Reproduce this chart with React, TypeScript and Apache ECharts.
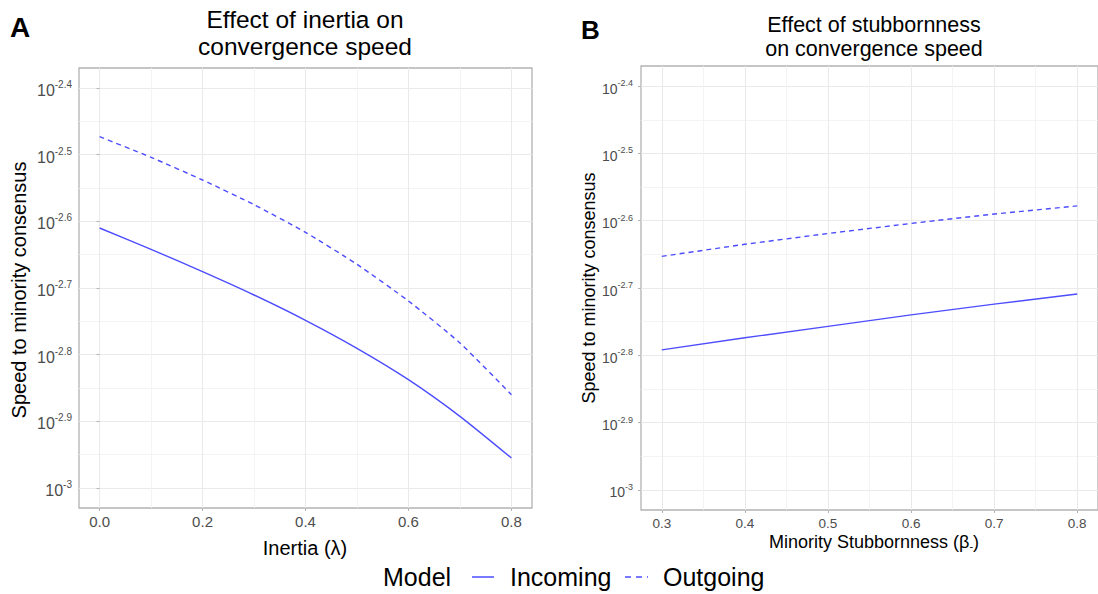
import React, { useEffect, useRef } from "react";
import * as echarts from "echarts";

// ---- data (y stored as log10 of speed) ----
const inertiaX = [0, 0.1, 0.2, 0.3, 0.4, 0.5, 0.6, 0.7, 0.8];
const inertiaIncomingLog10 = [-2.61, -2.642, -2.6755, -2.7105, -2.7485, -2.7905, -2.8375, -2.8925, -2.955];
const inertiaOutgoingLog10 = [-2.473, -2.504, -2.538, -2.575, -2.6165, -2.6645, -2.7195, -2.7825, -2.86];

const stubbornX = [0.3, 0.4, 0.5, 0.6, 0.7, 0.8];
const stubbornIncomingLog10 = [-2.792, -2.774, -2.757, -2.74, -2.724, -2.709];
const stubbornOutgoingLog10 = [-2.653, -2.635, -2.619, -2.604, -2.59, -2.578];

const yTicks = [-3, -2.9, -2.8, -2.7, -2.6, -2.5, -2.4];
const yMinorTicks = [-2.95, -2.85, -2.75, -2.65, -2.55, -2.45];
const inertiaTicks = [0, 0.2, 0.4, 0.6, 0.8];
const inertiaMinorTicks = [0.1, 0.3, 0.5, 0.7];
const stubbornTicks = [0.3, 0.4, 0.5, 0.6, 0.7, 0.8];
const stubbornMinorTicks = [0.35, 0.45, 0.55, 0.65, 0.75];

const seriesNames = ["Incoming", "Outgoing"];

const FONT = "'Liberation Sans', Arial, Helvetica, sans-serif";
const LINE_COLOR = "#4D4DFF";
const TICK_LABEL = "#4D4D4D";
const BORDER = "#B3B3B3";
const MAJOR_GRID = "#EAEAEA";
const MINOR_GRID = "#F1F1F1";

const zip = (xs: number[], ys: number[]) => xs.map((x, i) => [x, ys[i]]);

const expLabel = (v: number) => {
  const e = Number(Number(v).toFixed(2)).toString();
  return `{b|10}{s|${e}}`;
};

function mainX(gridIndex: number, min: number, max: number, ticks: number[], fontSize: number) {
  return {
    type: "value",
    gridIndex,
    min,
    max,
    axisLine: { show: false },
    axisTick: { show: true, length: 3, customValues: ticks, lineStyle: { color: BORDER, width: 1 } },
    axisLabel: {
      customValues: ticks,
      formatter: (v: number) => Number(v).toFixed(1),
      fontSize,
      fontFamily: FONT,
      color: TICK_LABEL,
      margin: 6,
    },
    splitLine: { show: true, lineStyle: { color: MAJOR_GRID, width: 1.1 } },
  };
}

function minorX(gridIndex: number, min: number, max: number, ticks: number[]) {
  return {
    type: "value",
    gridIndex,
    min,
    max,
    position: "bottom",
    axisLine: { show: false },
    axisTick: { show: false, customValues: ticks },
    axisLabel: { show: false },
    splitLine: { show: true, lineStyle: { color: MINOR_GRID, width: 0.8 } },
  };
}

function mainY(gridIndex: number, baseSize: number, supSize: number, margin: number) {
  return {
    type: "value",
    gridIndex,
    min: -3.03,
    max: -2.37,
    axisLine: { show: false },
    axisTick: { show: true, length: 3, customValues: yTicks, lineStyle: { color: BORDER, width: 1 } },
    axisLabel: {
      customValues: yTicks,
      formatter: expLabel,
      margin,
      padding: [5, 0, 0, 0],
      rich: {
        b: { fontSize: baseSize, fontFamily: FONT, color: TICK_LABEL, lineHeight: baseSize + 6, verticalAlign: "middle" },
        s: { fontSize: supSize, fontFamily: FONT, color: TICK_LABEL, lineHeight: supSize, verticalAlign: "top" },
      },
    },
    splitLine: { show: true, lineStyle: { color: MAJOR_GRID, width: 1.1 } },
  };
}

function minorY(gridIndex: number) {
  return {
    type: "value",
    gridIndex,
    min: -3.03,
    max: -2.37,
    position: "left",
    axisLine: { show: false },
    axisTick: { show: false, customValues: yMinorTicks },
    axisLabel: { show: false },
    splitLine: { show: true, lineStyle: { color: MINOR_GRID, width: 0.8 } },
  };
}

function lineSeries(name: string, xi: number, data: number[][], dashed: boolean, smooth: number) {
  return {
    type: "line",
    name,
    xAxisIndex: xi,
    yAxisIndex: xi,
    data,
    symbol: "none",
    smooth,
    z: 5,
    lineStyle: { color: LINE_COLOR, width: 1.4, type: dashed ? [5, 4] : "solid" },
    itemStyle: { color: LINE_COLOR },
  };
}

export default function App() {
  const ref = useRef<HTMLDivElement>(null);

  useEffect(() => {
    if (!ref.current) return;
    const chart = echarts.init(ref.current, undefined, { renderer: "svg" });

    const txt = (o: any) => ({
      type: "text",
      silent: true,
      ...o,
      style: { fontFamily: FONT, fill: "#000", ...(o.style || {}) },
    });

    const option: any = {
      animation: false,
      backgroundColor: "#ffffff",
      grid: [
        { left: 79, top: 68, width: 453, height: 440, show: true, borderColor: BORDER, borderWidth: 1.3, backgroundColor: "transparent" },
        { left: 641, top: 66, width: 465, height: 444, show: true, borderColor: BORDER, borderWidth: 1.3, backgroundColor: "transparent" },
      ],
      xAxis: [
        mainX(0, -0.04, 0.84, inertiaTicks, 15),
        minorX(0, -0.04, 0.84, inertiaMinorTicks),
        mainX(1, 0.275, 0.825, stubbornTicks, 13.5),
        minorX(1, 0.275, 0.825, stubbornMinorTicks),
      ],
      yAxis: [mainY(0, 16, 10, 7), minorY(0), mainY(1, 14, 9, 8), minorY(1)],
      series: [
        lineSeries(seriesNames[0], 0, zip(inertiaX, inertiaIncomingLog10), false, 0.2),
        lineSeries(seriesNames[1], 0, zip(inertiaX, inertiaOutgoingLog10), true, 0.2),
        lineSeries(seriesNames[0], 2, zip(stubbornX, stubbornIncomingLog10), false, 0),
        lineSeries(seriesNames[1], 2, zip(stubbornX, stubbornOutgoingLog10), true, 0),
      ],
      graphic: [
        txt({ x: 10, y: 27, style: { text: "A", fontSize: 28, fontWeight: "bold", verticalAlign: "middle" } }),
        txt({ x: 581, y: 30, style: { text: "B", fontSize: 26, fontWeight: "bold", verticalAlign: "middle" } }),
        txt({ x: 305, y: 33, style: { text: "Effect of inertia on\nconvergence speed", fontSize: 24.5, lineHeight: 27, align: "center", verticalAlign: "middle" } }),
        txt({ x: 874, y: 36.5, style: { text: "Effect of stubbornness\non convergence speed", fontSize: 21.5, lineHeight: 24, align: "center", verticalAlign: "middle" } }),
        txt({ x: 19, y: 290, rotation: Math.PI / 2, style: { text: "Speed to minority consensus", fontSize: 20, align: "center", verticalAlign: "middle" } }),
        txt({ x: 589, y: 288, rotation: Math.PI / 2, style: { text: "Speed to minority consensus", fontSize: 18, align: "center", verticalAlign: "middle" } }),
        txt({ x: 305, y: 548, style: { text: "Inertia (λ)", fontSize: 20, align: "center", verticalAlign: "middle" } }),
        txt({
          x: 874,
          y: 542,
          style: {
            text: "Minority Stubbornness (β{sub|-})",
            fontSize: 18,
            align: "center",
            verticalAlign: "middle",
            rich: { sub: { fontSize: 11, fontFamily: FONT, fill: "#000", lineHeight: 11, verticalAlign: "bottom" } },
          },
        }),
        txt({ x: 383, y: 577, style: { text: "Model", fontSize: 25, align: "left", verticalAlign: "middle" } }),
        { type: "line", silent: true, shape: { x1: 472, y1: 577, x2: 494, y2: 577 }, style: { stroke: LINE_COLOR, lineWidth: 1.5 } },
        txt({ x: 510, y: 577, style: { text: seriesNames[0], fontSize: 25, align: "left", verticalAlign: "middle" } }),
        { type: "line", silent: true, shape: { x1: 625, y1: 577, x2: 648, y2: 577 }, style: { stroke: LINE_COLOR, lineWidth: 1.5, lineDash: [6, 5] } },
        txt({ x: 663, y: 577, style: { text: seriesNames[1], fontSize: 25, align: "left", verticalAlign: "middle" } }),
      ],
    };

    chart.setOption(option);
    return () => chart.dispose();
  }, []);

  return (
    <div
      ref={ref}
      style={{ position: "fixed", left: 0, top: 0, width: 1098, height: 594, background: "#fff" }}
    />
  );
}
